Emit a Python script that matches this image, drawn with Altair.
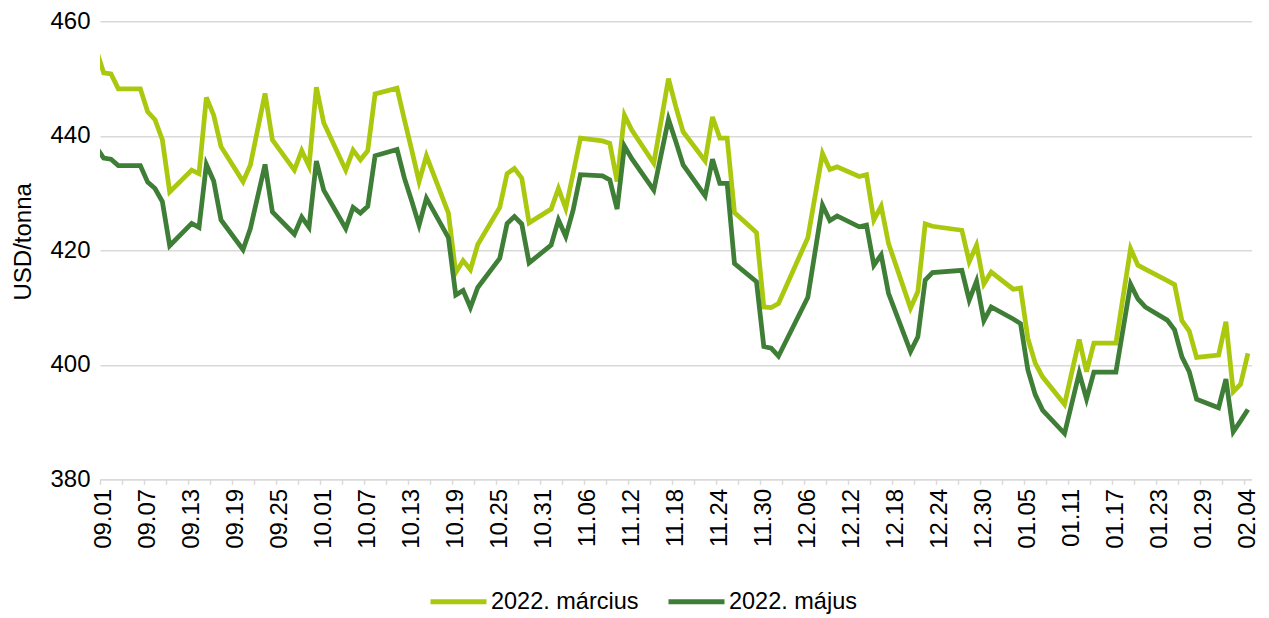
import altair as alt
import pandas as pd

# ---- data ----
dates = [
    "2021-08-31", "2021-09-01", "2021-09-02", "2021-09-03", "2021-09-06", "2021-09-07", "2021-09-08",
    "2021-09-09", "2021-09-10", "2021-09-13", "2021-09-14", "2021-09-15", "2021-09-16", "2021-09-17",
    "2021-09-20", "2021-09-21", "2021-09-23", "2021-09-24", "2021-09-27", "2021-09-28", "2021-09-29",
    "2021-09-30", "2021-10-01", "2021-10-04", "2021-10-05", "2021-10-06", "2021-10-07", "2021-10-08",
    "2021-10-11", "2021-10-12", "2021-10-13", "2021-10-14", "2021-10-15", "2021-10-18", "2021-10-19",
    "2021-10-20", "2021-10-21", "2021-10-22", "2021-10-25", "2021-10-26", "2021-10-27", "2021-10-28",
    "2021-10-29", "2021-11-01", "2021-11-02", "2021-11-03", "2021-11-04", "2021-11-05", "2021-11-08",
    "2021-11-09", "2021-11-10", "2021-11-11", "2021-11-12", "2021-11-15", "2021-11-17", "2021-11-18",
    "2021-11-19", "2021-11-22", "2021-11-23", "2021-11-24", "2021-11-25", "2021-11-26", "2021-11-29",
    "2021-11-30", "2021-12-01", "2021-12-02", "2021-12-06", "2021-12-08", "2021-12-09", "2021-12-10",
    "2021-12-13", "2021-12-14", "2021-12-15", "2021-12-16", "2021-12-17", "2021-12-20", "2021-12-21",
    "2021-12-22", "2021-12-23", "2021-12-27", "2021-12-28", "2021-12-29", "2021-12-30", "2021-12-31",
    "2022-01-03", "2022-01-04", "2022-01-05", "2022-01-06", "2022-01-07", "2022-01-10", "2022-01-12",
    "2022-01-13", "2022-01-14", "2022-01-17", "2022-01-19", "2022-01-20", "2022-01-21", "2022-01-24",
    "2022-01-25", "2022-01-26", "2022-01-27", "2022-01-28", "2022-01-31", "2022-02-01", "2022-02-02",
    "2022-02-03", "2022-02-04",
]
marcius = [
    455.0, 451.0, 450.8, 448.2, 448.2, 444.2, 442.8,
    439.3, 430.2, 434.0, 433.4, 446.7, 443.6, 438.1,
    432.0, 434.9, 447.4, 439.3, 434.0, 437.4, 434.7,
    448.5, 442.3, 434.0, 437.5, 435.8, 437.4, 447.3,
    448.3, 442.8, 437.5, 432.0, 436.5, 426.5, 416.1,
    418.2, 416.6, 421.0, 427.5, 433.4, 434.3, 432.6,
    424.8, 427.2, 430.8, 427.3, 433.4, 439.6, 439.1,
    438.7, 432.0, 443.6, 441.0, 435.2, 450.0, 445.1,
    440.7, 435.6, 443.3, 439.6, 439.6, 426.6, 423.1,
    410.1, 410.0, 410.7, 422.2, 436.9, 434.1, 434.6,
    432.9, 433.2, 425.3, 427.7, 421.2, 409.9, 412.8,
    424.6, 424.2, 423.5, 418.0, 420.9, 414.1, 416.2,
    413.2, 413.4, 404.6, 400.3, 397.9, 393.1, 404.4,
    398.8, 403.8, 403.8, 420.3, 417.4, 416.7, 414.7,
    414.0, 407.7, 405.9, 401.3, 401.7, 407.5, 395.3,
    396.6, 402.0,
]
majus = [
    438.0, 436.1, 435.9, 434.8, 434.8, 431.9, 430.8,
    428.5, 420.8, 424.7, 424.0, 435.0, 432.1, 425.3,
    420.1, 423.8, 435.0, 426.7, 422.8, 425.8, 424.0,
    435.6, 430.5, 423.8, 427.5, 426.5, 427.7, 436.5,
    437.6, 432.6, 428.6, 424.4, 429.1, 422.2, 412.2,
    413.0, 410.0, 413.5, 418.6, 424.7, 425.9, 424.6,
    417.8, 420.9, 425.3, 422.4, 427.0, 433.2, 433.0,
    432.3, 427.2, 438.2, 436.0, 430.5, 442.9, 439.0,
    434.9, 429.5, 435.9, 431.7, 431.7, 417.7, 414.5,
    403.2, 402.9, 401.5, 411.8, 427.9, 425.2, 426.0,
    424.1, 424.4, 417.4, 419.2, 412.5, 402.3, 404.9,
    414.8, 416.1, 416.5, 411.3, 414.6, 407.7, 410.1,
    408.0, 407.2, 399.1, 394.8, 392.1, 388.0, 398.6,
    394.0, 398.7, 398.7, 414.1, 411.5, 410.1, 407.8,
    406.1, 401.4, 398.8, 394.0, 392.5, 397.5, 388.3,
    390.2, 392.2,
]
tick_labels = [
    "09.01", "09.07", "09.13", "09.19", "09.25", "10.01", "10.07", "10.13", "10.19",
    "10.25", "10.31", "11.06", "11.12", "11.18", "11.24", "11.30", "12.06", "12.12",
    "12.18", "12.24", "12.30", "01.05", "01.11", "01.17", "01.23", "01.29", "02.04",
]
series_names = ["2022. március", "2022. május"]
series_colors = ["#AAC90E", "#3F7E36"]
y_ticks = [380, 400, 420, 440, 460]

# ---- build table ----
start = pd.Timestamp("2021-09-01")
day_pos = [(pd.Timestamp(d) - start).days + 0.5 for d in dates]
rows = []
for name, vals in zip(series_names, [marcius, majus]):
    for p, v in zip(day_pos, vals):
        rows.append({"pos": p, "value": v, "series": name})
df = pd.DataFrame(rows)

FONT = "Liberation Sans"
FS = 24
NDAYS = 157
PX_DAY = 7.335
W, H = NDAYS * PX_DAY, 458
half_day = PX_DAY / 2

label_js = "[" + ",".join("'%s'" % t for t in tick_labels) + "]"
x_axis = alt.Axis(
    values=list(range(0, 157, 3)),
    labelExpr="datum.value % 6 == 0 ? " + label_js + "[datum.value / 6] : ''",
    labelAngle=270,
    labelOffset=half_day,
    labelFont=FONT,
    labelFontSize=FS,
    labelColor="#000000",
    labelPadding=4,
    labelOverlap=False,
    labelBound=False,
    labelFlush=False,
    tickSize=5,
    tickColor="#D9D9D9",
    tickWidth=1.5,
    domainColor="#D9D9D9",
    domainWidth=1.5,
    grid=False,
    title=None,
)
y_axis = alt.Axis(
    values=y_ticks,
    labelFont=FONT,
    labelFontSize=FS,
    labelColor="#000000",
    labelPadding=10,
    ticks=False,
    tickSize=0,
    domain=False,
    grid=True,
    gridColor="#D9D9D9",
    gridWidth=1.5,
    title="USD/tonna",
    titleFont=FONT,
    titleFontSize=FS,
    titleFontWeight="normal",
    titleColor="#000000",
    titleX=-69.5,
    titleY=220,
    titleAngle=270,
    titleBaseline="alphabetic",
    titleAlign="center",
)

color = alt.Color(
    "series:N",
    scale=alt.Scale(domain=series_names, range=series_colors),
    legend=alt.Legend(
        title=None,
        orient="none",
        legendX=328,
        legendY=550,
        direction="horizontal",
        symbolType="stroke",
        symbolSize=56 * 56,
        symbolStrokeWidth=5,
        labelFont=FONT,
        labelFontSize=23.5,
        labelColor="#000000",
        labelOffset=2,
        columnPadding=19,
        padding=0,
    ),
)

x_enc = alt.X("pos:Q", scale=alt.Scale(domain=[0, NDAYS], nice=False, zero=False), axis=x_axis)
y_enc = alt.Y("value:Q", scale=alt.Scale(domain=[380, 460], nice=False, zero=False), axis=y_axis)

base = alt.Chart(df)
layers = []
for name in series_names:
    layers.append(
        base.transform_filter(alt.datum.series == name)
        .mark_line(strokeWidth=4.75, clip=True)
        .encode(x=x_enc, y=y_enc, color=color, order="pos:Q")
    )

chart = (
    alt.layer(*layers)
    .properties(
        width=W,
        height=H,
        autosize=alt.AutoSizeParams(type="none"),
        padding={"left": 92, "top": 13.3, "right": 9, "bottom": 138.7},
        background="#FFFFFF",
    )
    .configure_view(stroke=None)
)

chart.save("out.html", embed_options={"renderer": "svg", "actions": False})
